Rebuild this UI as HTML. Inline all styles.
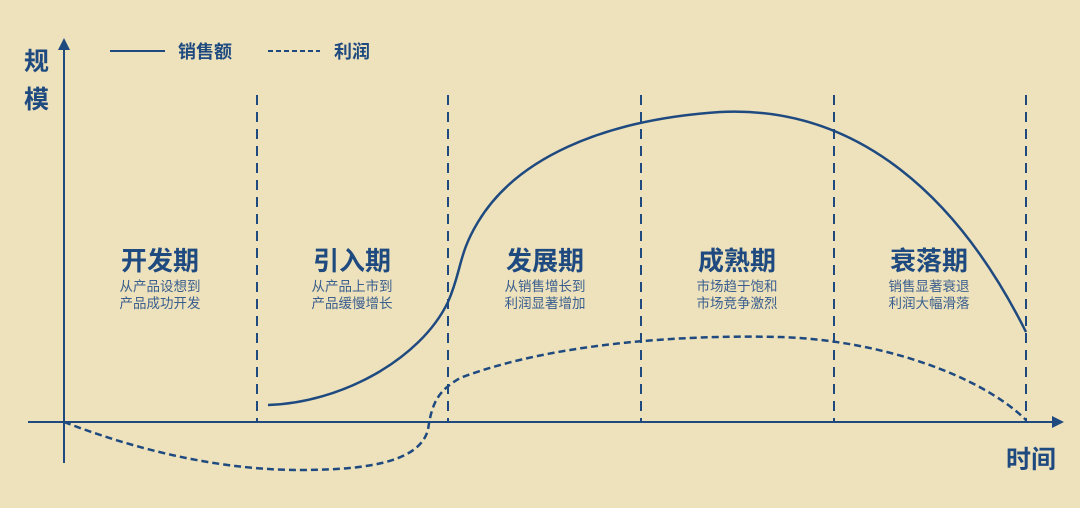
<!DOCTYPE html>
<html><head><meta charset="utf-8"><style>
html,body{margin:0;padding:0;background:#EEE2BC;}
svg{display:block}
text{font-family:"Liberation Sans","Noto Sans CJK SC",sans-serif;fill:#1F4A80}
.t{font-size:26px;font-weight:bold;text-anchor:middle}
.s{font-size:13.5px;text-anchor:middle;fill:#3A5F8E}
</style></head><body>
<svg width="1080" height="508" viewBox="0 0 1080 508">
<rect width="1080" height="508" fill="#EEE2BC"/>
<g stroke="#1F4A80" fill="none" stroke-width="2">
<line x1="64" y1="48" x2="64" y2="463"/>
<line x1="28" y1="422" x2="1055" y2="422"/>
<g stroke-dasharray="10,7">
<line x1="257" y1="95" x2="257" y2="422"/>
<line x1="448" y1="95" x2="448" y2="422"/>
<line x1="641" y1="95" x2="641" y2="422"/>
<line x1="834" y1="95" x2="834" y2="422"/>
<line x1="1026" y1="95" x2="1026" y2="422"/>
</g>
<path d="M268,405 C340,403 420,360 448,302 C462,270 458,255 478,222 C515,160 600,120 720,112 C860,105 960,200 1026,332" stroke-width="2.5"/>
<path d="M64,422 C150,455 230,470 300,470 C380,470 420,458 428,430 C432,400 440,390 460,378 C560,340 700,335 780,337 C880,340 980,375 1026,420" stroke-width="2.5" stroke-dasharray="7,4"/>
<line x1="110" y1="51" x2="165" y2="51"/>
<line x1="268" y1="51" x2="320" y2="51" stroke-dasharray="5,3"/>
</g>
<polygon points="64,38 58,50 70,50" fill="#1F4A80"/>
<polygon points="1064,422 1052,416 1052,428" fill="#1F4A80"/>
<text x="178" y="58" style="font-size:18px;font-weight:bold">销售额</text>
<text x="334" y="58" style="font-size:18px;font-weight:bold">利润</text>
<text x="24" y="70" style="font-size:25px;font-weight:bold">规</text>
<text x="24" y="108" style="font-size:25px;font-weight:bold">模</text>
<text x="1006" y="468" style="font-size:25px;font-weight:bold">时间</text>
<text class="t" x="160" y="270">开发期</text>
<text class="s" x="160" y="291">从产品设想到</text>
<text class="s" x="160" y="308">产品成功开发</text>
<text class="t" x="352" y="270">引入期</text>
<text class="s" x="352" y="291">从产品上市到</text>
<text class="s" x="352" y="308">产品缓慢增长</text>
<text class="t" x="545" y="270">发展期</text>
<text class="s" x="545" y="291">从销售增长到</text>
<text class="s" x="545" y="308">利润显著增加</text>
<text class="t" x="737" y="270">成熟期</text>
<text class="s" x="737" y="291">市场趋于饱和</text>
<text class="s" x="737" y="308">市场竞争激烈</text>
<text class="t" x="929" y="270">衰落期</text>
<text class="s" x="929" y="291">销售显著衰退</text>
<text class="s" x="929" y="308">利润大幅滑落</text>
</svg>
</body></html>
